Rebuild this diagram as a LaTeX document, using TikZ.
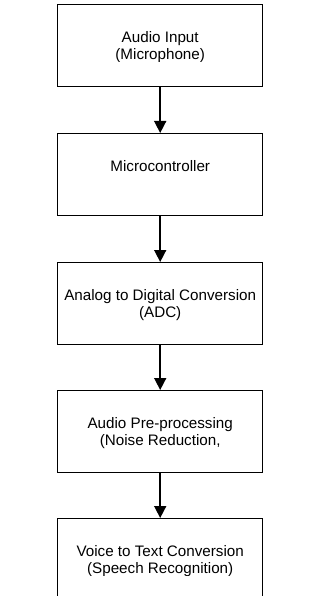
\documentclass[tikz,border=0pt]{standalone}
\usepackage{fontspec}
\setmainfont{Liberation Sans}
\usetikzlibrary{arrows.meta}
\begin{document}
\begin{tikzpicture}[x=1pt,y=-1pt,
  stage/.style={draw=black, line width=1.4pt, minimum width=205pt,
    minimum height=82pt, inner sep=0pt, anchor=north west},
  caption/.style={font=\fontsize{15.2}{17.5}\selectfont, align=center,
    anchor=north, inner sep=0pt},
  flow/.style={-{Triangle[length=12pt,width=12pt]}, line width=1.6pt}]
\useasboundingbox (0,0) rectangle (328,596);

% processing stages
\node[stage] (b1) at (57,4)   {};
\node[stage] (b2) at (57,133) {};
\node[stage] (b3) at (57,262) {};
\node[stage] (b4) at (57,390) {};
\node[stage] (b5) at (57,518) {};

% stage captions, cut off where the text area of each box ends
\begin{scope}
  \clip (b1.north west) rectangle ([yshift=-58pt]b1.north east);
  \node[caption] (t1) at ([yshift=-27pt]b1.north) {Audio Input\\(Microphone)};
\end{scope}
\begin{scope}
  \clip (b2.north west) rectangle ([yshift=-58pt]b2.north east);
  \node[caption] (t2) at ([yshift=-27pt]b2.north) {Microcontroller};
\end{scope}
\begin{scope}
  \clip (b3.north west) rectangle ([yshift=-59pt]b3.north east);
  \node[caption] (t3) at ([yshift=-27pt]b3.north) {Analog to Digital Conversion\\(ADC)};
\end{scope}
\begin{scope}
  \clip (b4.north west) rectangle ([yshift=-64pt]b4.north east);
  \node[caption] (t4) at ([yshift=-27pt]b4.north) {Audio Pre-processing\\(Noise Reduction,};
\end{scope}
\begin{scope}
  \clip (b5.north west) rectangle ([yshift=-57pt]b5.north east);
  \node[caption] (t5) at ([yshift=-27pt]b5.north) {Voice to Text Conversion\\(Speech Recognition)};
\end{scope}

% signal flow
\draw[flow] (b1.south) -- (b2.north);
\draw[flow] (b2.south) -- (b3.north);
\draw[flow] (b3.south) -- (b4.north);
\draw[flow] (b4.south) -- (b5.north);
\end{tikzpicture}
\end{document}
